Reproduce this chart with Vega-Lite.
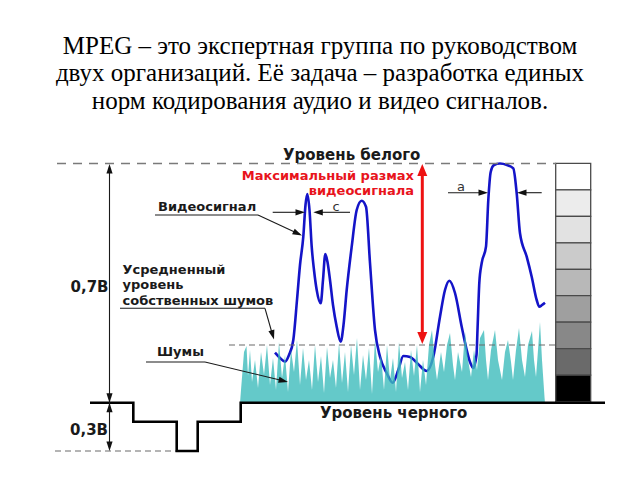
{
  "$schema": "https://vega.github.io/schema/vega-lite/v6.json",
  "width": 640,
  "height": 480,
  "autosize": {"type": "fit", "contains": "padding"},
  "padding": 0,
  "background": "white",
  "config": {"view": {"stroke": null}},
  "datasets": {
    "gray": [
      {"g": 0, "x": 555.7, "x2": 590.7, "y": 163.3, "y2": 189.8},
      {"g": 1, "x": 555.7, "x2": 590.7, "y": 189.8, "y2": 216.3},
      {"g": 2, "x": 555.7, "x2": 590.7, "y": 216.3, "y2": 242.8},
      {"g": 3, "x": 555.7, "x2": 590.7, "y": 242.8, "y2": 269.3},
      {"g": 4, "x": 555.7, "x2": 590.7, "y": 269.3, "y2": 295.7},
      {"g": 5, "x": 555.7, "x2": 590.7, "y": 295.7, "y2": 322.2},
      {"g": 6, "x": 555.7, "x2": 590.7, "y": 322.2, "y2": 348.7},
      {"g": 7, "x": 555.7, "x2": 590.7, "y": 348.7, "y2": 375.2},
      {"g": 8, "x": 555.7, "x2": 590.7, "y": 375.2, "y2": 401.7}
    ],
    "dashLong": [
      {"x": 57, "y": 163.5, "x2": 556, "y2": 163.5}
    ],
    "dashShort": [
      {"x": 229, "y": 345, "x2": 556, "y2": 345},
      {"x": 55, "y": 451, "x2": 176, "y2": 451}
    ],
    "signal": [
      {"x": 275, "y": 352.7}, {"x": 280, "y": 358}, {"x": 285, "y": 361.7}, {"x": 289, "y": 355},
      {"x": 293.3, "y": 340}, {"x": 297, "y": 300}, {"x": 300, "y": 265}, {"x": 303.3, "y": 236.7},
      {"x": 305.5, "y": 205}, {"x": 307.3, "y": 194}, {"x": 309.5, "y": 210}, {"x": 311.7, "y": 246.7},
      {"x": 314, "y": 270}, {"x": 316.7, "y": 290}, {"x": 320.7, "y": 303.3}, {"x": 323, "y": 280},
      {"x": 325.3, "y": 254}, {"x": 327.5, "y": 262}, {"x": 330, "y": 280}, {"x": 333, "y": 305},
      {"x": 336.7, "y": 326.7}, {"x": 340.7, "y": 341.7}, {"x": 343.5, "y": 325}, {"x": 346.7, "y": 290},
      {"x": 351.7, "y": 246.7}, {"x": 356.7, "y": 210}, {"x": 361.7, "y": 200.7}, {"x": 366, "y": 206.7},
      {"x": 370, "y": 263}, {"x": 375, "y": 330}, {"x": 380, "y": 356.7}, {"x": 386.7, "y": 373},
      {"x": 392.7, "y": 382.7}, {"x": 398.3, "y": 370}, {"x": 403.3, "y": 356}, {"x": 410, "y": 357},
      {"x": 418, "y": 364}, {"x": 426.7, "y": 371}, {"x": 433.3, "y": 356.7}, {"x": 440, "y": 316.7},
      {"x": 445, "y": 290}, {"x": 449.3, "y": 280.7}, {"x": 455, "y": 293}, {"x": 461.7, "y": 326.7},
      {"x": 466.7, "y": 350}, {"x": 470, "y": 362}, {"x": 473.3, "y": 368}, {"x": 476.5, "y": 355},
      {"x": 477.5, "y": 330}, {"x": 479.3, "y": 283}, {"x": 481.7, "y": 263}, {"x": 486, "y": 246.7},
      {"x": 488.3, "y": 200}, {"x": 490.7, "y": 172}, {"x": 494, "y": 165}, {"x": 500, "y": 163.5},
      {"x": 507, "y": 165}, {"x": 513.3, "y": 168.3}, {"x": 516.7, "y": 193.3}, {"x": 520, "y": 233.3},
      {"x": 526.7, "y": 256.7}, {"x": 531.7, "y": 276.7}, {"x": 536.7, "y": 300}, {"x": 539.3, "y": 306.7},
      {"x": 542, "y": 305}, {"x": 545, "y": 302.7}
    ],
    "noise": [
      {"x": 240, "y": 403}, {"x": 241, "y": 390}, {"x": 244, "y": 352}, {"x": 246.5, "y": 346}, {"x": 248, "y": 376},
      {"x": 250, "y": 350}, {"x": 252, "y": 382}, {"x": 255, "y": 360}, {"x": 258, "y": 388}, {"x": 261, "y": 352},
      {"x": 264, "y": 375}, {"x": 267, "y": 345}, {"x": 270, "y": 385}, {"x": 273, "y": 358}, {"x": 276, "y": 390},
      {"x": 279, "y": 342}, {"x": 282, "y": 378}, {"x": 285, "y": 355}, {"x": 288, "y": 392}, {"x": 291, "y": 350},
      {"x": 294, "y": 372}, {"x": 297, "y": 340}, {"x": 300, "y": 385}, {"x": 303, "y": 348}, {"x": 306, "y": 380},
      {"x": 309, "y": 360}, {"x": 312, "y": 390}, {"x": 315, "y": 345}, {"x": 318, "y": 382}, {"x": 321, "y": 356},
      {"x": 324, "y": 393}, {"x": 327, "y": 347}, {"x": 330, "y": 378}, {"x": 333, "y": 360}, {"x": 336, "y": 388},
      {"x": 339, "y": 343}, {"x": 342, "y": 383}, {"x": 345, "y": 352}, {"x": 348, "y": 392}, {"x": 351, "y": 345},
      {"x": 354, "y": 375}, {"x": 357, "y": 338}, {"x": 360, "y": 390}, {"x": 363, "y": 355}, {"x": 366, "y": 380},
      {"x": 369, "y": 348}, {"x": 372, "y": 394}, {"x": 375, "y": 340}, {"x": 378, "y": 372}, {"x": 381, "y": 355},
      {"x": 384, "y": 390}, {"x": 387, "y": 345}, {"x": 390, "y": 380}, {"x": 393, "y": 358}, {"x": 396, "y": 392},
      {"x": 399, "y": 342}, {"x": 402, "y": 378}, {"x": 405, "y": 362}, {"x": 408, "y": 390}, {"x": 411, "y": 350},
      {"x": 414, "y": 376}, {"x": 417, "y": 345}, {"x": 420, "y": 392}, {"x": 423, "y": 360}, {"x": 426, "y": 385},
      {"x": 429, "y": 345}, {"x": 432, "y": 330}, {"x": 435, "y": 365}, {"x": 437, "y": 380}, {"x": 441, "y": 352},
      {"x": 444, "y": 372}, {"x": 447, "y": 345}, {"x": 450, "y": 333}, {"x": 453, "y": 365}, {"x": 455, "y": 380},
      {"x": 458, "y": 352}, {"x": 462, "y": 372}, {"x": 465, "y": 332}, {"x": 468, "y": 360}, {"x": 471, "y": 377},
      {"x": 474, "y": 350}, {"x": 477, "y": 370}, {"x": 480, "y": 338}, {"x": 484, "y": 330}, {"x": 486, "y": 360},
      {"x": 488, "y": 380}, {"x": 491, "y": 350}, {"x": 495, "y": 330}, {"x": 498, "y": 360}, {"x": 502, "y": 380},
      {"x": 505, "y": 352}, {"x": 508, "y": 340}, {"x": 511, "y": 362}, {"x": 513, "y": 380}, {"x": 516, "y": 350},
      {"x": 519, "y": 328}, {"x": 522, "y": 360}, {"x": 525, "y": 377}, {"x": 528, "y": 345}, {"x": 532, "y": 331},
      {"x": 534, "y": 360}, {"x": 536, "y": 377}, {"x": 538, "y": 350}, {"x": 540, "y": 322}, {"x": 542, "y": 360},
      {"x": 544.5, "y": 397}, {"x": 545, "y": 403}
    ],
    "steps": [
      {"o": 0, "x": 90, "y": 402.7}, {"o": 1, "x": 133.3, "y": 402.7}, {"o": 2, "x": 133.3, "y": 421.7},
      {"o": 3, "x": 176.7, "y": 421.7}, {"o": 4, "x": 176.7, "y": 451}, {"o": 5, "x": 197.7, "y": 451},
      {"o": 6, "x": 197.7, "y": 421.7}, {"o": 7, "x": 240.7, "y": 421.7}, {"o": 8, "x": 240.7, "y": 402.7},
      {"o": 9, "x": 605, "y": 402.7}
    ],
    "leaders": [
      {"x": 155, "y": 215, "x2": 258, "y2": 215},
      {"x": 258, "y": 215, "x2": 300, "y2": 234.5},
      {"x": 120, "y": 308.3, "x2": 265, "y2": 308.3},
      {"x": 265, "y": 308.3, "x2": 272, "y2": 333},
      {"x": 146, "y": 362, "x2": 205, "y2": 362},
      {"x": 205, "y": 362, "x2": 282, "y2": 380.5},
      {"x": 272.7, "y": 212.3, "x2": 300, "y2": 212.3},
      {"x": 318, "y": 212.3, "x2": 350, "y2": 212.3},
      {"x": 448, "y": 192.7, "x2": 483, "y2": 192.7},
      {"x": 522, "y": 192.7, "x2": 541.7, "y2": 192.7},
      {"x": 109.5, "y": 168, "x2": 109.5, "y2": 447}
    ],
    "redline": [
      {"x": 422.3, "y": 172, "x2": 422.3, "y2": 336}
    ],
    "heads": [
      {"x": 302, "y": 235.5, "ang": 25},
      {"x": 274, "y": 339.5, "ang": 74},
      {"x": 288, "y": 382, "ang": 13.5},
      {"x": 305, "y": 212.3, "ang": 0},
      {"x": 313.3, "y": 212.3, "ang": 180},
      {"x": 488, "y": 192.7, "ang": 0},
      {"x": 517, "y": 192.7, "ang": 180},
      {"x": 109.5, "y": 164, "ang": 270},
      {"x": 109.5, "y": 402.7, "ang": 90},
      {"x": 109.5, "y": 402.7, "ang": 270},
      {"x": 109.5, "y": 451, "ang": 90}
    ],
    "redheads": [
      {"x": 422.3, "y": 164, "ang": 270},
      {"x": 422.3, "y": 344, "ang": 90}
    ],
    "title": [
      {"t": "MPEG – это экспертная группа по руководством", "x": 320, "y": 53.5},
      {"t": "двух организаций. Её задача – разработка единых", "x": 320, "y": 81},
      {"t": "норм кодирования аудио и видео сигналов.", "x": 320, "y": 108.5}
    ],
    "bigLabels": [
      {"t": "Уровень белого", "x": 283, "y": 155},
      {"t": "Уровень черного", "x": 320, "y": 413},
      {"t": "0,7В", "x": 70.5, "y": 287},
      {"t": "0,3В", "x": 70, "y": 430}
    ],
    "labels": [
      {"t": "Видеосигнал", "x": 158, "y": 207},
      {"t": "Усредненный", "x": 122.5, "y": 269.5},
      {"t": "уровень", "x": 122.5, "y": 285},
      {"t": "собственных шумов", "x": 122.5, "y": 300.5},
      {"t": "Шумы", "x": 157, "y": 352}
    ],
    "redLabels": [
      {"t": "Максимальный размах", "x": 414, "y": 176},
      {"t": "видеосигнала", "x": 414, "y": 191}
    ],
    "small": [
      {"t": "c", "x": 336, "y": 207},
      {"t": "a", "x": 461, "y": 187}
    ]
  },
  "encoding": {
    "x": {"field": "x", "type": "quantitative", "scale": {"domain": [0, 640], "nice": false, "zero": false}, "axis": null},
    "y": {"field": "y", "type": "quantitative", "scale": {"domain": [0, 480], "nice": false, "zero": false, "reverse": true}, "axis": null}
  },
  "layer": [
    {
      "data": {"name": "gray"},
      "mark": {"type": "rect", "stroke": "#4a4a4a", "strokeWidth": 1.3},
      "encoding": {
        "x2": {"field": "x2"},
        "y2": {"field": "y2"},
        "color": {"field": "g", "type": "ordinal", "legend": null,
          "scale": {"domain": [0, 1, 2, 3, 4, 5, 6, 7, 8],
            "range": ["#ffffff", "#ececec", "#e2e2e2", "#cbcbcb", "#b8b8b8", "#9f9f9f", "#888888", "#6a6a6a", "#000000"]}}
      }
    },
    {
      "data": {"name": "signal"},
      "mark": {"type": "line", "color": "#1414c8", "strokeWidth": 2.6, "interpolate": "monotone"},
      "encoding": {}
    },
    {
      "data": {"name": "noise"},
      "mark": {"type": "area", "color": "#3dbcbc", "opacity": 0.8, "interpolate": "linear"},
      "encoding": {"y2": {"datum": 403}}
    },
    {
      "data": {"name": "dashLong"},
      "mark": {"type": "rule", "color": "#7a7a7a", "strokeWidth": 1.3, "strokeDash": [9, 7]},
      "encoding": {"x2": {"field": "x2"}, "y2": {"field": "y2"}}
    },
    {
      "data": {"name": "dashShort"},
      "mark": {"type": "rule", "color": "#6a6a6a", "strokeWidth": 1.1, "strokeDash": [6, 4]},
      "encoding": {"x2": {"field": "x2"}, "y2": {"field": "y2"}}
    },
    {
      "data": {"name": "steps"},
      "mark": {"type": "line", "color": "#000000", "strokeWidth": 2.6, "interpolate": "linear"},
      "encoding": {"order": {"field": "o", "type": "quantitative"}}
    },
    {
      "data": {"name": "leaders"},
      "mark": {"type": "rule", "color": "#1a1a1a", "strokeWidth": 1.1},
      "encoding": {"x2": {"field": "x2"}, "y2": {"field": "y2"}}
    },
    {
      "data": {"name": "redline"},
      "mark": {"type": "rule", "color": "#ee1111", "strokeWidth": 3},
      "encoding": {"x2": {"field": "x2"}, "y2": {"field": "y2"}}
    },
    {
      "data": {"name": "heads"},
      "mark": {"type": "point", "shape": "M0,0L-2,-0.65L-2,0.65Z", "filled": true, "color": "#111111", "opacity": 1, "size": 90, "strokeWidth": 0},
      "encoding": {"angle": {"field": "ang", "type": "quantitative", "scale": null}}
    },
    {
      "data": {"name": "redheads"},
      "mark": {"type": "point", "shape": "M0,0L-2.4,-1L-2.4,1Z", "filled": true, "color": "#ee1111", "opacity": 1, "size": 100, "strokeWidth": 0},
      "encoding": {"angle": {"field": "ang", "type": "quantitative", "scale": null}}
    },
    {
      "data": {"name": "title"},
      "mark": {"type": "text", "font": "Liberation Serif", "fontSize": 25, "color": "#000000", "align": "center", "baseline": "alphabetic"},
      "encoding": {"text": {"field": "t"}}
    },
    {
      "data": {"name": "bigLabels"},
      "mark": {"type": "text", "font": "DejaVu Sans", "fontWeight": "bold", "fontSize": 15, "color": "#1a1a1a", "align": "left", "baseline": "middle"},
      "encoding": {"text": {"field": "t"}}
    },
    {
      "data": {"name": "labels"},
      "mark": {"type": "text", "font": "DejaVu Sans", "fontWeight": "bold", "fontSize": 13, "color": "#1a1a1a", "align": "left", "baseline": "middle"},
      "encoding": {"text": {"field": "t"}}
    },
    {
      "data": {"name": "redLabels"},
      "mark": {"type": "text", "font": "DejaVu Sans", "fontWeight": "bold", "fontSize": 13, "color": "#e8141c", "align": "right", "baseline": "middle"},
      "encoding": {"text": {"field": "t"}}
    },
    {
      "data": {"name": "small"},
      "mark": {"type": "text", "font": "DejaVu Sans", "fontSize": 13, "color": "#333333", "align": "center", "baseline": "middle"},
      "encoding": {"text": {"field": "t"}}
    }
  ]
}
